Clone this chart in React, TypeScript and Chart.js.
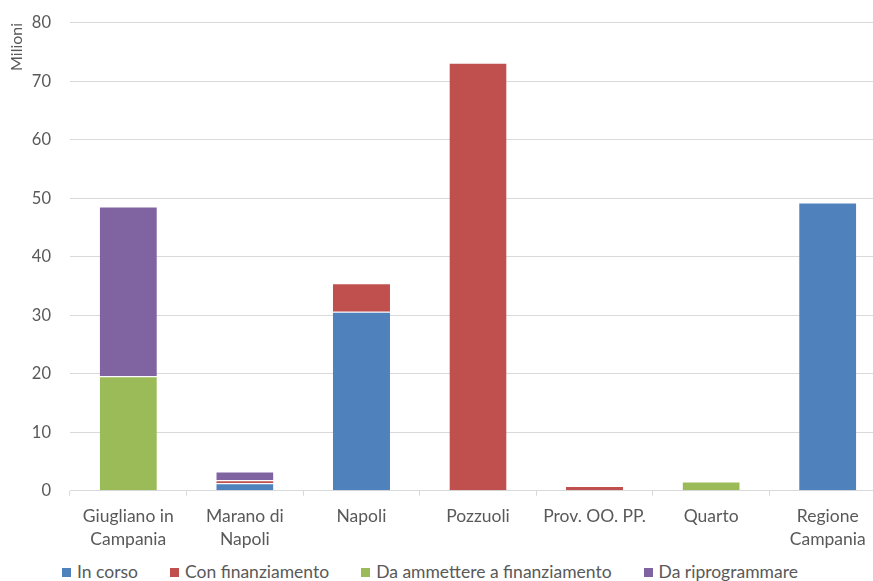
import React, { useEffect, useRef } from "react";
import { Chart, registerables } from "chart.js";

Chart.register(...registerables);

// Categories (municipalities / entities)
const categories: (string | string[])[] = [
  ["Giugliano in", "Campania"],
  ["Marano di", "Napoli"],
  "Napoli",
  "Pozzuoli",
  "Prov. OO. PP.",
  "Quarto",
  ["Regione", "Campania"],
];

// Amounts in millions of euro, per status
const inCorso = [0, 1.3, 30.6, 0, 0, 0, 49.3];
const conFinanziamento = [0, 0.5, 4.9, 73.2, 0.8, 0, 0];
const daAmmettere = [19.6, 0, 0, 0, 0, 1.6, 0];
const daRiprogrammare = [29.0, 1.5, 0, 0, 0, 0, 0];

const seriesNames = [
  "In corso",
  "Con finanziamento",
  "Da ammettere a finanziamento",
  "Da riprogrammare",
];
const seriesColors = ["#4F81BD", "#C0504D", "#9BBB59", "#8064A2"];

const yTicks = [0, 10, 20, 30, 40, 50, 60, 70, 80];

const FONT = "Lato, 'Open Sans', sans-serif";
const TEXT = "#595959";
const GRID = "#d9d9d9";

export default function App() {
  const canvasRef = useRef<HTMLCanvasElement | null>(null);

  useEffect(() => {
    const canvas = canvasRef.current;
    if (!canvas) return;
    const values = [inCorso, conFinanziamento, daAmmettere, daRiprogrammare];
    const chart = new Chart(canvas, {
      type: "bar",
      data: {
        labels: categories,
        datasets: values.map((v, i) => ({
          label: seriesNames[i],
          data: v.map((x) => (x === 0 ? null : x)),
          backgroundColor: seriesColors[i],
          borderColor: "#ffffff",
          borderWidth: { top: 1, right: 0, bottom: 0, left: 0 },
          borderSkipped: false,
          categoryPercentage: 1,
          barPercentage: 0.49,
        })),
      },
      options: {
        responsive: false,
        animation: false,
        devicePixelRatio: 1,
        layout: { padding: { top: 6, right: 2, bottom: 0, left: 0 } },
        plugins: {
          legend: { display: false },
          tooltip: { enabled: false },
          title: { display: false },
        },
        scales: {
          x: {
            stacked: true,
            offset: true,
            grid: {
              offset: true,
              drawOnChartArea: false,
              drawTicks: true,
              tickLength: 5,
              color: GRID,
            },
            border: { display: true, color: GRID, width: 1 },
            ticks: {
              color: TEXT,
              font: { family: FONT, size: 17.5, lineHeight: 1.32 },
              padding: 9,
              maxRotation: 0,
              autoSkip: false,
            },
          },
          y: {
            stacked: true,
            min: 0,
            max: 80,
            afterBuildTicks: (axis: any) => {
              axis.ticks = yTicks.map((value) => ({ value }));
            },
            afterFit: (axis: any) => {
              axis.width = 70;
            },
            grid: { color: GRID, drawTicks: false },
            border: { display: false },
            ticks: {
              color: TEXT,
              font: { family: FONT, size: 16.5 },
              padding: 19,
            },
            title: {
              display: true,
              text: "Milioni",
              align: "end",
              color: TEXT,
              font: { family: FONT, size: 16 },
              padding: { top: 7, bottom: 0 },
            },
          },
        },
      },
    });
    return () => chart.destroy();
  }, []);

  return (
    <div
      style={{
        position: "fixed",
        left: 0,
        top: 0,
        width: 873,
        height: 581,
        overflow: "hidden",
        background: "#ffffff",
      }}
    >
      <canvas
        ref={canvasRef}
        width={888}
        height={566}
        style={{ position: "absolute", left: 0, top: -6 }}
      />
      <div
        style={{
          position: "absolute",
          left: 62,
          top: 561,
          display: "flex",
          gap: 32,
          fontFamily: FONT,
          fontSize: 17.5,
          color: TEXT,
          whiteSpace: "nowrap",
          lineHeight: "22px",
        }}
      >
        {seriesNames.map((name, i) => (
          <div key={name} style={{ display: "flex", alignItems: "center" }}>
            <span
              style={{
                display: "inline-block",
                width: 9,
                height: 9,
                background: seriesColors[i],
                marginRight: 6,
              }}
            />
            <span>{name}</span>
          </div>
        ))}
      </div>
    </div>
  );
}
